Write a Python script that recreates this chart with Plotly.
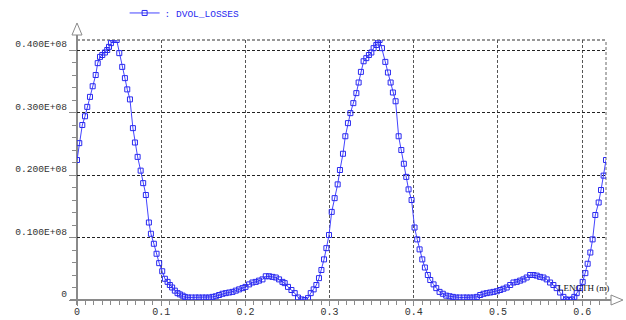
import plotly.graph_objects as go

# Position along the length (m)
length_m = [
    0.0, 0.0027, 0.0063, 0.0095, 0.0122, 0.0154, 0.0186, 0.0222, 0.0246, 0.0273,
    0.0300, 0.0332, 0.0359, 0.0380, 0.0403, 0.0431, 0.0471, 0.0502, 0.0537, 0.0569,
    0.0597, 0.0629, 0.0664, 0.0688, 0.0720, 0.0756, 0.0786, 0.0818, 0.0854, 0.0878,
    0.0913, 0.0945, 0.0976, 0.1012, 0.1044, 0.1076, 0.1103, 0.1130, 0.1162, 0.1194,
    0.1222, 0.1254, 0.1281, 0.1320, 0.1361, 0.1408, 0.1447, 0.1491, 0.1530, 0.1569,
    0.1610, 0.1649, 0.1688, 0.1728, 0.1767, 0.1807, 0.1847, 0.1886, 0.1925, 0.1966,
    0.2001, 0.2044, 0.2084, 0.2123, 0.2162, 0.2203, 0.2242, 0.2281, 0.2321, 0.2361,
    0.2400, 0.2440, 0.2467, 0.2506, 0.2547, 0.2586, 0.2625, 0.2665, 0.2705, 0.2744,
    0.2776, 0.2811, 0.2843, 0.2874, 0.2903, 0.2934, 0.2962, 0.2993, 0.3025, 0.3060,
    0.3096, 0.3123, 0.3159, 0.3187, 0.3218, 0.3247, 0.3282, 0.3318, 0.3345, 0.3372,
    0.3404, 0.3436, 0.3467, 0.3496, 0.3523, 0.3555, 0.3574, 0.3594, 0.3622, 0.3662,
    0.3693, 0.3725, 0.3752, 0.3784, 0.3820, 0.3852, 0.3882, 0.3911, 0.3938, 0.3974,
    0.4009, 0.4041, 0.4069, 0.4101, 0.4132, 0.4167, 0.4196, 0.4235, 0.4267, 0.4306,
    0.4345, 0.4385, 0.4425, 0.4464, 0.4504, 0.4543, 0.4591, 0.4630, 0.4670, 0.4709,
    0.4749, 0.4789, 0.4828, 0.4867, 0.4907, 0.4946, 0.4986, 0.5026, 0.5065, 0.5104,
    0.5145, 0.5184, 0.5223, 0.5263, 0.5302, 0.5341, 0.5382, 0.5421, 0.5460, 0.5500,
    0.5540, 0.5579, 0.5619, 0.5658, 0.5697, 0.5738, 0.5777, 0.5809, 0.5848, 0.5880,
    0.5907, 0.5935, 0.5975, 0.6006, 0.6038, 0.6065, 0.6097, 0.6124, 0.6156, 0.6196,
    0.6224, 0.6255, 0.6283,
]

# Volumetric losses
dvol_losses = [
    2.24e7, 2.51e7, 2.80e7, 2.94e7, 3.09e7, 3.25e7, 3.42e7, 3.60e7, 3.79e7, 3.89e7,
    3.92e7, 3.96e7, 4.00e7, 4.05e7, 4.11e7, 4.16e7, 4.16e7, 3.95e7, 3.73e7, 3.55e7,
    3.37e7, 3.21e7, 2.75e7, 2.52e7, 2.29e7, 2.07e7, 1.87e7, 1.68e7, 1.24e7, 1.06e7,
    0.90e7, 0.74e7, 0.59e7, 0.46e7, 0.34e7, 0.29e7, 0.24e7, 0.20e7, 0.15e7, 0.11e7,
    0.09e7, 0.07e7, 0.05e7, 0.04e7, 0.04e7, 0.04e7, 0.04e7, 0.04e7, 0.04e7, 0.04e7,
    0.05e7, 0.06e7, 0.08e7, 0.10e7, 0.11e7, 0.12e7, 0.13e7, 0.15e7, 0.17e7, 0.19e7,
    0.21e7, 0.25e7, 0.28e7, 0.29e7, 0.31e7, 0.33e7, 0.38e7, 0.38e7, 0.37e7, 0.36e7,
    0.33e7, 0.29e7, 0.27e7, 0.21e7, 0.16e7, 0.11e7, 0.04e7, 0.01e7, 0.00e7, 0.03e7,
    0.11e7, 0.17e7, 0.24e7, 0.35e7, 0.48e7, 0.65e7, 0.83e7, 1.04e7, 1.41e7, 1.63e7,
    1.85e7, 2.08e7, 2.34e7, 2.62e7, 2.83e7, 2.99e7, 3.15e7, 3.31e7, 3.48e7, 3.65e7,
    3.82e7, 3.87e7, 3.92e7, 3.96e7, 4.03e7, 4.08e7, 4.12e7, 4.16e7, 4.03e7, 3.81e7,
    3.64e7, 3.48e7, 3.32e7, 3.18e7, 2.62e7, 2.40e7, 2.18e7, 1.97e7, 1.77e7, 1.60e7,
    1.16e7, 0.97e7, 0.81e7, 0.65e7, 0.52e7, 0.40e7, 0.32e7, 0.25e7, 0.19e7, 0.13e7,
    0.10e7, 0.07e7, 0.06e7, 0.05e7, 0.04e7, 0.04e7, 0.04e7, 0.04e7, 0.04e7, 0.04e7,
    0.05e7, 0.08e7, 0.10e7, 0.11e7, 0.12e7, 0.13e7, 0.14e7, 0.16e7, 0.18e7, 0.20e7,
    0.24e7, 0.28e7, 0.29e7, 0.31e7, 0.33e7, 0.36e7, 0.40e7, 0.40e7, 0.39e7, 0.37e7,
    0.36e7, 0.33e7, 0.28e7, 0.24e7, 0.19e7, 0.12e7, 0.05e7, 0.01e7, 0.00e7, 0.01e7,
    0.05e7, 0.11e7, 0.19e7, 0.29e7, 0.43e7, 0.58e7, 0.76e7, 0.97e7, 1.36e7, 1.56e7,
    1.76e7, 1.99e7, 2.24e7,
]

x_tickvals = [0, 0.1, 0.2, 0.3, 0.4, 0.5, 0.6]
x_ticktext = ["0", "0.1", "0.2", "0.3", "0.4", "0.5", "0.6"]
y_tickvals = [0, 1e7, 2e7, 3e7, 4e7]
y_ticktext = ["0", "0.100E+08", "0.200E+08", "0.300E+08", "0.400E+08"]

x_max = max(length_m)
y_max = max(dvol_losses)

BLUE = "#2a2af0"
AXIS = "#8a8a8a"
MONO = "Liberation Mono, DejaVu Sans Mono, monospace"

fig = go.Figure()
fig.add_trace(go.Scatter(
    x=length_m, y=dvol_losses, mode="lines+markers",
    name=": DVOL_LOSSES",
    line=dict(color="#4444ff", width=1),
    marker=dict(symbol="square-open", size=5, color=BLUE, line=dict(width=1, color=BLUE)),
))

shapes = []
# frame lines (top and right), dotted like the grid
shapes.append(dict(type="line", xref="paper", yref="paper", x0=0, x1=1, y0=1, y1=1,
                   line=dict(color="#333", width=1, dash="3px,2px"), layer="below"))
shapes.append(dict(type="line", xref="paper", yref="paper", x0=1, x1=1, y0=0, y1=1,
                   line=dict(color="#666", width=1, dash="3px,2px"), layer="below"))
# axis lines with open arrowheads
shapes.append(dict(type="line", xref="paper", yref="paper", x0=-0.0132, x1=1.0095, y0=0, y1=0,
                   line=dict(color=AXIS, width=2), layer="below"))
shapes.append(dict(type="line", xref="paper", yref="paper", x0=0, x1=0, y0=-0.0192, y1=1.0192,
                   line=dict(color=AXIS, width=2), layer="below"))
shapes.append(dict(type="path", xref="paper", yref="paper",
                   path="M -0.0095 1.0192 L 0.0095 1.0192 L 0 1.0654 Z",
                   line=dict(color=AXIS, width=1), fillcolor="white", layer="below"))
shapes.append(dict(type="path", xref="paper", yref="paper",
                   path="M 1.0095 -0.0192 L 1.0095 0.0192 L 1.0321 0 Z",
                   line=dict(color=AXIS, width=1), fillcolor="white", layer="below"))

fig.update_layout(
    width=626, height=320,
    margin=dict(l=77, r=20, t=40, b=20, autoexpand=False),
    paper_bgcolor="white", plot_bgcolor="white",
    showlegend=True,
    legend=dict(x=0.09, y=1.104, xanchor="left", yanchor="middle",
                font=dict(family=MONO, size=9.5, color=BLUE),
                bgcolor="rgba(0,0,0,0)", borderwidth=0),
    shapes=shapes,
    annotations=[dict(text="LENGTH (m)", xref="paper", yref="paper",
                      x=0.905, y=0.046, xanchor="left", yanchor="middle",
                      showarrow=False,
                      font=dict(family="Liberation Serif, serif", size=9, color="#111"))],
    xaxis=dict(
        range=[0, x_max], tickvals=x_tickvals, ticktext=x_ticktext,
        showline=False, zeroline=False, automargin=False,
        showgrid=True, gridcolor="#555", griddash="3px,2px", gridwidth=1,
        ticks="outside", ticklen=5, tickcolor=AXIS, tickwidth=1,
        minor=dict(dtick=0.01, ticks="outside", ticklen=4, tickcolor=AXIS, showgrid=False),
        tickfont=dict(family=MONO, size=10, color="#333"),
        ticklabelstandoff=-3,
    ),
    yaxis=dict(
        range=[0, y_max], tickvals=y_tickvals, ticktext=y_ticktext,
        showline=False, zeroline=False, automargin=False,
        showgrid=True, gridcolor="#222", griddash="3px,2px", gridwidth=1,
        ticks="outside", ticklen=7, tickcolor=AXIS, tickwidth=1,
        minor=dict(dtick=2e6, ticks="outside", ticklen=4, tickcolor=AXIS, showgrid=False),
        tickfont=dict(family=MONO, size=9.6, color="#333"),
        ticklabelshift=-6, ticklabelstandoff=0,
    ),
)

fig.write_html("out.html")
